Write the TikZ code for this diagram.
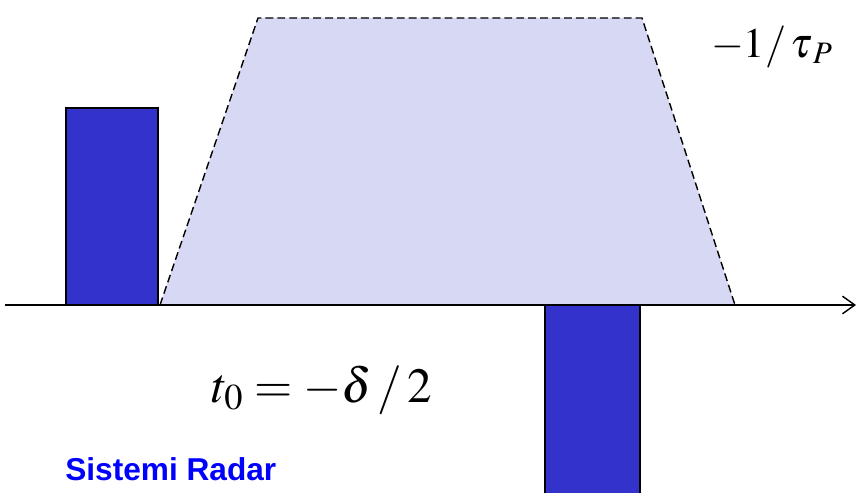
\documentclass[tikz,border=0pt]{standalone}
\usepackage{mathptmx}
\usepackage{fontspec}
\setmainfont{Liberation Serif}
\newfontfamily\labelfont{Liberation Sans}
\usepackage{tikz}
\usetikzlibrary{arrows.meta,positioning}
\definecolor{pulse_blue}{RGB}{51,51,204}
\definecolor{band_fill}{RGB}{214,216,244}
\definecolor{title_blue}{RGB}{0,0,255}
\tikzset{
pulse/.style={draw=black, line width=0.9pt, fill=pulse_blue},
band/.style={draw=black, line width=0.8pt, dash pattern=on 4.5pt off 2.3pt, fill=band_fill},
axis_line/.style={line width=1.1pt, -{Straight Barb[length=7pt,width=10pt,line width=0.8pt]}},
formula/.style={inner sep=0pt, text=black},
title_label/.style={inner sep=0pt, anchor=west, text=title_blue, font=\labelfont\bfseries\fontsize{18}{21}\selectfont}
}

\begin{document}
\begin{tikzpicture}[x=0.02cm, y=-0.02cm]
    \useasboundingbox (0,0) rectangle (856,493);
    \coordinate (axis_start) at (5,305);
    \coordinate (axis_end) at (856,305);
    \filldraw[band] (160,305) -- (258,18) -- (642,18) -- (735,305) -- cycle;
    \filldraw[pulse] (66,108) rectangle (158,305);
    \filldraw[pulse] (545,305) rectangle (640,497);
    \draw[axis_line] (axis_start) -- (axis_end);
    \node[formula, font=\fontsize{24}{28}\selectfont] (tau_label) at (772,47) {$-1/\,\tau_{\,P}$};
    \node[formula, font=\fontsize{28}{32}\selectfont] (t0_label) at (322,390) {$t_{0} = -\delta\,/\,2$};
    \node[title_label] (title) at (65,469) {Sistemi Radar};
\end{tikzpicture}
\end{document}
